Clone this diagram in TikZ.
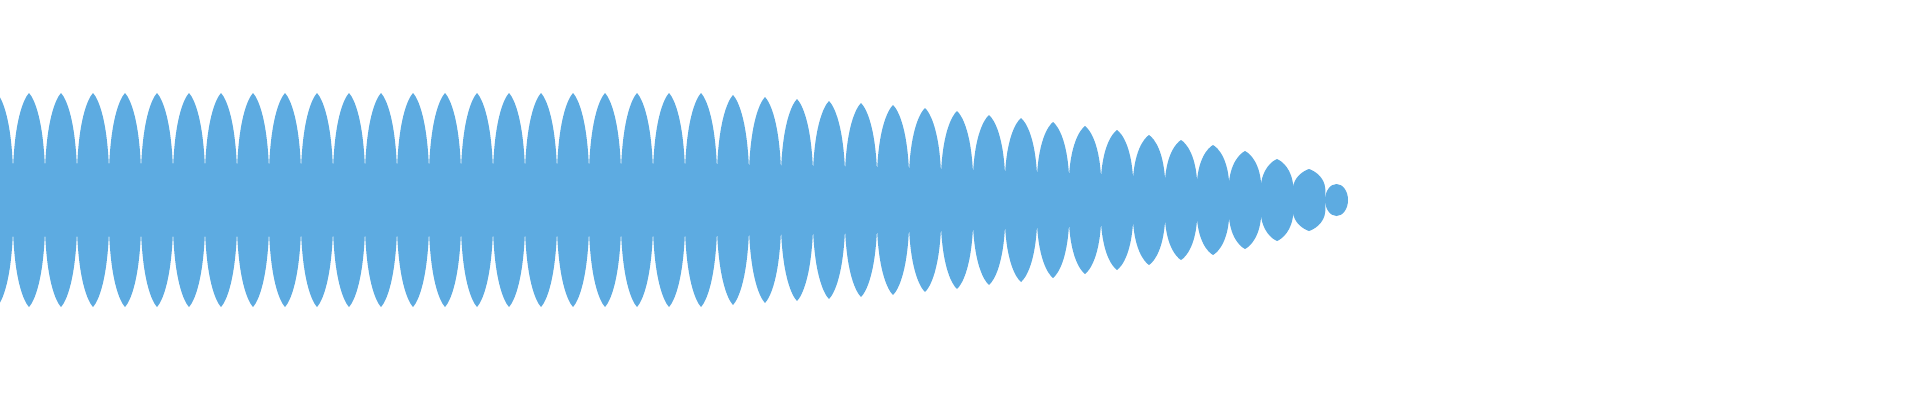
\documentclass[tikz,border=0pt]{standalone}
\definecolor{wavecol}{HTML}{5DABE1}
\begin{document}
\begin{tikzpicture}[x=1pt,y=-1pt,wave/.style={fill=wavecol}]
\useasboundingbox (0,0) rectangle (1920,400);
\clip (0,0) rectangle (1920,400);
\def\amps{{107,107,107,107,107,107,107,107,107,107,107,107,107,107,107,107,107,107,107,107,107,107,107,105,103,101,99,97,95,92,89,85,82,78,74,70,65,60,55,49,41,31}}
\foreach \j in {0,...,41}{
  \pgfmathsetmacro\A{\amps[\j]}
  \pgfmathsetmacro\w{8+0.1*\A}
  \pgfmathsetmacro\xa{13+32*\j-32-0.3}
  \pgfmathsetmacro\xb{\xa+32.6}
  \pgfmathsetmacro\xm{\xa+16.3}
  \fill[wave] (\xa,200-\w) .. controls (\xa+0.8,200-0.75*\A) and (\xm-5,200-0.95*\A) .. (\xm,200-\A)
     .. controls (\xm+5,200-0.95*\A) and (\xb-0.8,200-0.75*\A) .. (\xb,200-\w)
     -- (\xb,200+\w) .. controls (\xb-0.8,200+0.75*\A) and (\xm+5,200+0.95*\A) .. (\xm,200+\A)
     .. controls (\xm-5,200+0.95*\A) and (\xa+0.8,200+0.75*\A) .. (\xa,200+\w) -- cycle;
}
\fill[wave] (1336.5,200) ellipse [x radius=11.5, y radius=16];
\end{tikzpicture}
\end{document}
